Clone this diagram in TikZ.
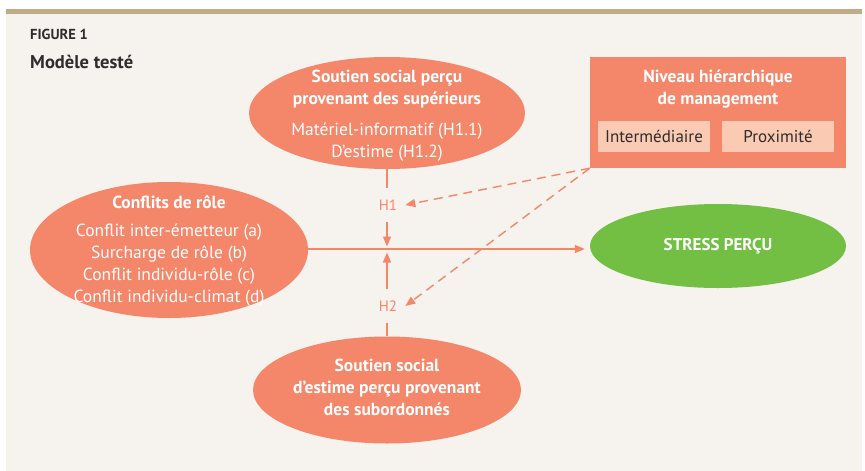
\documentclass[tikz,border=0pt]{standalone}
\usepackage{fontspec}
\setmainfont{PT Sans}
\usetikzlibrary{shapes.geometric,arrows.meta}
\definecolor{saumon}{HTML}{F4866A}
\definecolor{vert}{HTML}{72BF44}
\definecolor{fond}{HTML}{F6F2EE}
\definecolor{bande}{HTML}{BFAB8A}
\definecolor{rose}{HTML}{FBCAB3}
\definecolor{encre}{HTML}{2E2C2C}
\tikzset{
	bulle/.style={ellipse, fill=saumon, inner sep=0pt},
	texte/.style={text=white, align=center, inner sep=0pt, font=\fontsize{17.5}{22}\selectfont},
	fleche/.style={draw=saumon, line width=1.4pt, -{Triangle[length=10pt,width=8pt]}},
	trait/.style={draw=saumon, line width=1.4pt},
	pointille/.style={fleche, dash pattern=on 9pt off 6pt},
	hyp/.style={text=saumon, inner xsep=8pt, inner ysep=11pt, font=\fontsize{15}{17}\selectfont},
	case/.style={fill=rose, text=encre, minimum width=112pt, minimum height=31pt, inner sep=0pt, font=\fontsize{17}{20}\selectfont}
}
\begin{document}
\begin{tikzpicture}[x=1pt,y=-1pt]
		\useasboundingbox (0,0) rectangle (865,471);
		\fill[white] (0,0) rectangle (865,471);
		\fill[fond] (6,14) rectangle (862,471);
		\fill[bande] (6,9) rectangle (862,14);
		\node[anchor=base west, text=encre, inner sep=0pt, font=\fontsize{14.5}{16}\bfseries] (fig) at (30,39) {FIGURE 1};
		\node[anchor=base west, text=encre, inner sep=0pt, font=\fontsize{18.5}{21}\bfseries] (titre) at (30,68) {Modèle testé};
		\node[bulle, minimum width=276pt, minimum height=112pt] (sup) at (387,113) {};
		\node[texte] (sup-t) at (387,115.5) {\textbf{Soutien social perçu}\\ \textbf{provenant des supérieurs}\\[9pt] Matériel-informatif (H1.1)\\ D’estime (H1.2)};
		\node[bulle, minimum width=278pt, minimum height=136pt] (conf) at (169,250) {};
		\node[texte] (conf-t) at (169,251.5) {\textbf{Conflits de rôle}\\[6pt] Conflit inter-émetteur (a)\\ Surcharge de rôle (b)\\ Conflit individu-rôle (c)\\ Conflit individu-climat (d)};
		\node[bulle, minimum width=268pt, minimum height=107pt] (sub) at (387,390) {};
		\node[texte, font=\fontsize{17.5}{22}\bfseries] (sub-t) at (387,387) {Soutien social\\ d’estime perçu provenant\\ des subordonnés};
		\node[bulle, fill=vert, minimum width=256pt, minimum height=84pt, texte, font=\fontsize{17}{22}\bfseries] (stress) at (718,246) {STRESS PERÇU};
		\node[fill=saumon, minimum width=256pt, minimum height=111pt, inner sep=0pt] (niveau) at (718,112.5) {};
		\node[texte, font=\fontsize{17.5}{22}\bfseries] (niveau-t) at (718,89) {Niveau hiérarchique\\ de management};
		\node[case] (inter) at (654,136.5) {Intermédiaire};
		\node[case] (prox) at (778,136.5) {Proximité};
		\node[hyp] (h1) at (388,205) {H1};
		\node[hyp] (h2) at (388,306) {H2};
		\coordinate (croix) at (387,249);
		\draw[fleche] (conf.east |- croix) -- ([xshift=-5pt]stress.west |- croix);
		\draw[trait] (sup.south) -- (h1.north -| sup.south);
		\draw[fleche] (h1.south -| croix) -- ([yshift=2.5pt]croix);
		\draw[trait] (sub.north) -- (h2.south -| sub.north);
		\draw[fleche] (h2.north -| croix) -- ([yshift=-3.5pt]croix);
		\draw[pointille] (niveau.south west) -- (h1.east);
		\draw[pointille] (niveau.south west) -- (h2.east);
	\end{tikzpicture}
\end{document}
